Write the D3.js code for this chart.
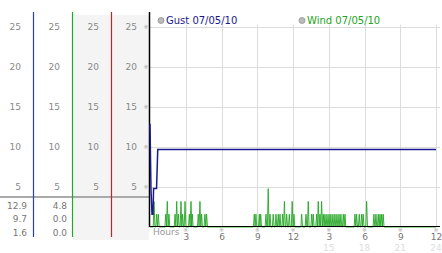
<!DOCTYPE html>
<html>
<head>
<meta charset="utf-8">
<script src="https://cdn.jsdelivr.net/npm/d3@7"></script>
<style>
  body { margin: 0; background: #fff; }
  svg { display: block; font-family: "DejaVu Sans", Verdana, sans-serif; }
</style>
</head>
<body>
<svg id="chart" width="442" height="253"></svg>
<script>
// y ticks shared by the four left columns and the plot grid
var yTicks = [5, 10, 15, 20, 25];

// hour ticks on the x axis, two label rows
var hourTicks = [3, 6, 9, 12, 15, 18, 21, 24];
var hourLabels = ["3", "6", "9", "12", "3", "6", "9", "12"];
var hourLabels2 = ["", "", "", "", "15", "18", "21", "24"];

// summary values under the columns (max, current, min)
var gustStats = ["12.9", "9.7", "1.6"];
var windStats = ["4.8", "0.0", "0.0"];

// legend
var seriesNames = ["Gust 07/05/10", "Wind 07/05/10"];
var seriesColors = ["#1a1a8c", "#22a622"];

// gust readings: hour, mph
var gustHours = [0, 0.08, 0.17, 0.25, 0.3, 0.55, 0.65, 24];
var gustValues = [12.9, 4.8, 1.6, 1.6, 4.8, 4.8, 9.7, 9.7];

// wind readings above zero: hour, mph (zero everywhere else)
var windHours = [0.34, 0.56, 0.70, 1.32, 1.45, 1.59, 2.10, 2.24, 2.38, 2.60, 2.74, 2.94,
    3.30, 3.44, 3.55, 4.05, 4.19, 4.33, 4.61, 4.75,
    8.75, 8.89, 9.17, 9.29, 9.73, 9.92, 10.07, 10.34, 10.57, 10.76, 10.91, 11.13, 11.28,
    11.47, 11.69, 11.93, 12.08, 12.73, 13.09, 13.28, 13.57, 13.70, 13.98, 14.12, 14.26,
    14.40, 14.54, 14.68, 14.85, 15.02, 15.18, 15.35, 15.52, 15.69, 15.86, 16.02, 16.22,
    16.36, 17.20, 17.34, 17.56, 17.76, 17.89, 18.18, 18.79, 18.96, 19.15, 19.30, 19.44, 19.57];
var windValues = [3.2, 1.6, 1.6, 1.6, 3.2, 1.6, 1.6, 3.2, 1.6, 3.2, 1.6, 3.2,
    1.6, 3.2, 1.6, 1.6, 3.2, 1.6, 1.6, 1.6,
    1.6, 1.6, 1.6, 1.6, 1.6, 4.8, 1.6, 1.6, 1.6, 1.6, 1.6, 1.6, 3.2,
    1.6, 1.6, 3.2, 1.6, 1.6, 1.6, 3.2, 1.6, 1.6, 1.6, 3.2, 1.6,
    3.2, 1.6, 1.6, 1.6, 1.6, 1.6, 1.6, 1.6, 1.6, 1.6, 1.6, 1.6,
    1.6, 1.6, 1.6, 1.6, 1.6, 1.6, 3.2, 1.6, 1.6, 1.6, 1.6, 1.6, 1.6];

var svg = d3.select("#chart");

// scales
var x = d3.scaleLinear().domain([0, 24]).range([150, 436]);
var y = d3.scaleLinear().domain([0, 25]).range([227, 27]);

// left panel column edges and line colours
var colEdges = [0, 33, 72, 111, 149];
var colLineColors = ["#2244c4", "#22aa22", "#cc2222", "#000"];

// grey background behind columns 3 and 4
svg.append("rect")
    .attr("x", 73).attr("y", 15)
    .attr("width", 76).attr("height", 225)
    .attr("fill", "#f4f4f4");

// separator above the stats
svg.append("rect")
    .attr("x", 0).attr("y", 196)
    .attr("width", 149).attr("height", 2)
    .attr("fill", "#aaa");

// left axes, one per column
for (var i = 0; i < 4; i++) {
    var ax = svg.append("g")
        .attr("transform", "translate(" + colEdges[i + 1] + ",0)")
        .call(d3.axisLeft(y).tickValues(yTicks).tickSize(0).tickPadding(12));
    ax.select(".domain").remove();
    ax.selectAll("text")
        .attr("fill", "#888")
        .style("font-size", "9px")
        .style("font-family", "DejaVu Sans");
}

// stats text
function drawStats(vals, right) {
    svg.selectAll(null)
        .data(vals)
        .enter().append("text")
        .attr("x", right)
        .attr("y", function(d, i) { return 208.5 + i * 13.5; })
        .attr("text-anchor", "end")
        .attr("fill", "#777")
        .style("font-size", "9px")
        .text(function(d) { return d; });
}
drawStats(gustStats, 27);
drawStats(windStats, 67);

// plot grid
svg.append("g").selectAll("line")
    .data(yTicks)
    .enter().append("line")
    .attr("x1", 150).attr("x2", 440)
    .attr("y1", function(d) { return y(d) + 0.5; })
    .attr("y2", function(d) { return y(d) + 0.5; })
    .attr("stroke", "#dcdcdc");

svg.append("g").selectAll("line")
    .data(hourTicks)
    .enter().append("line")
    .attr("x1", function(d) { return Math.round(x(d)) + 0.5; })
    .attr("x2", function(d) { return Math.round(x(d)) + 0.5; })
    .attr("y1", y(25.3)).attr("y2", y(0))
    .attr("stroke", "#dcdcdc");

// column lines
svg.selectAll(null)
    .data(colLineColors)
    .enter().append("line")
    .attr("x1", function(d, i) { return colEdges[i + 1] + 0.5; })
    .attr("x2", function(d, i) { return colEdges[i + 1] + 0.5; })
    .attr("y1", 12)
    .attr("y2", function(d, i) { return i == 3 ? 227 : 237; })
    .attr("stroke", function(d) { return d; })
    .attr("stroke-width", function(d, i) { return i == 3 ? 1.5 : 1.2; });

// small tick marks on the y axis
svg.selectAll(null)
    .data(yTicks)
    .enter().append("text")
    .attr("x", 146).attr("y", function(d) { return y(d) + 2; })
    .attr("text-anchor", "middle")
    .attr("fill", "#aaa")
    .style("font-size", "6px")
    .text("※");

// wind line
var windPts = [[0, 0]];
windHours.forEach(function(h, i) {
    windPts.push([h - 0.07, 0], [h, windValues[i]], [h + 0.07, 0]);
});
windPts.push([24, 0]);

var line = d3.line()
    .x(function(d) { return x(d[0]); })
    .y(function(d) { return y(d[1]); });

svg.append("path")
    .datum(windPts)
    .attr("d", line)
    .attr("fill", "none")
    .attr("stroke", seriesColors[1])
    .attr("stroke-width", 0.9);

// x axis
var xa = svg.append("g")
    .attr("transform", "translate(0,226)")
    .call(d3.axisBottom(x).tickValues(hourTicks).tickSize(0).tickPadding(8)
        .tickFormat(function(d, i) { return hourLabels[i]; }));
xa.select(".domain").remove();
xa.selectAll("text")
    .attr("fill", "#777")
    .style("font-size", "9px")
    .style("font-family", "DejaVu Sans");

svg.append("line")
    .attr("x1", 149).attr("x2", 440)
    .attr("y1", 226.5).attr("y2", 226.5)
    .attr("stroke", "#000");

// second row of hour labels
svg.selectAll(null)
    .data(hourTicks)
    .enter().append("text")
    .attr("x", function(d) { return x(d); })
    .attr("y", 251)
    .attr("text-anchor", "middle")
    .attr("fill", "#ddd")
    .style("font-size", "9px")
    .text(function(d, i) { return hourLabels2[i]; });

// small tick marks on the x axis
svg.selectAll(null)
    .data(hourTicks)
    .enter().append("text")
    .attr("x", function(d) { return x(d); }).attr("y", 232)
    .attr("text-anchor", "middle")
    .attr("fill", "#aaa")
    .style("font-size", "6px")
    .text("※");

svg.append("text")
    .attr("x", 153).attr("y", 235)
    .attr("fill", "#999")
    .style("font-size", "9px")
    .text("Hours");

// gust line
svg.append("path")
    .datum(gustHours.map(function(h, i) { return [h, gustValues[i]]; }))
    .attr("d", line)
    .attr("fill", "none")
    .attr("stroke", seriesColors[0])
    .attr("stroke-width", 1.5);

// legend
var legendX = [161, 302];
svg.selectAll(null)
    .data(seriesNames)
    .enter().append("circle")
    .attr("cx", function(d, i) { return legendX[i]; })
    .attr("cy", 20.5)
    .attr("r", 3)
    .attr("fill", "#bbb")
    .attr("stroke", "#888")
    .attr("stroke-width", 0.7);

svg.selectAll(null)
    .data(seriesNames)
    .enter().append("text")
    .attr("x", function(d, i) { return legendX[i] + 5; })
    .attr("y", 24)
    .attr("fill", function(d, i) { return seriesColors[i]; })
    .style("font-size", "10px")
    .text(function(d) { return d; });
</script>
</body>
</html>
